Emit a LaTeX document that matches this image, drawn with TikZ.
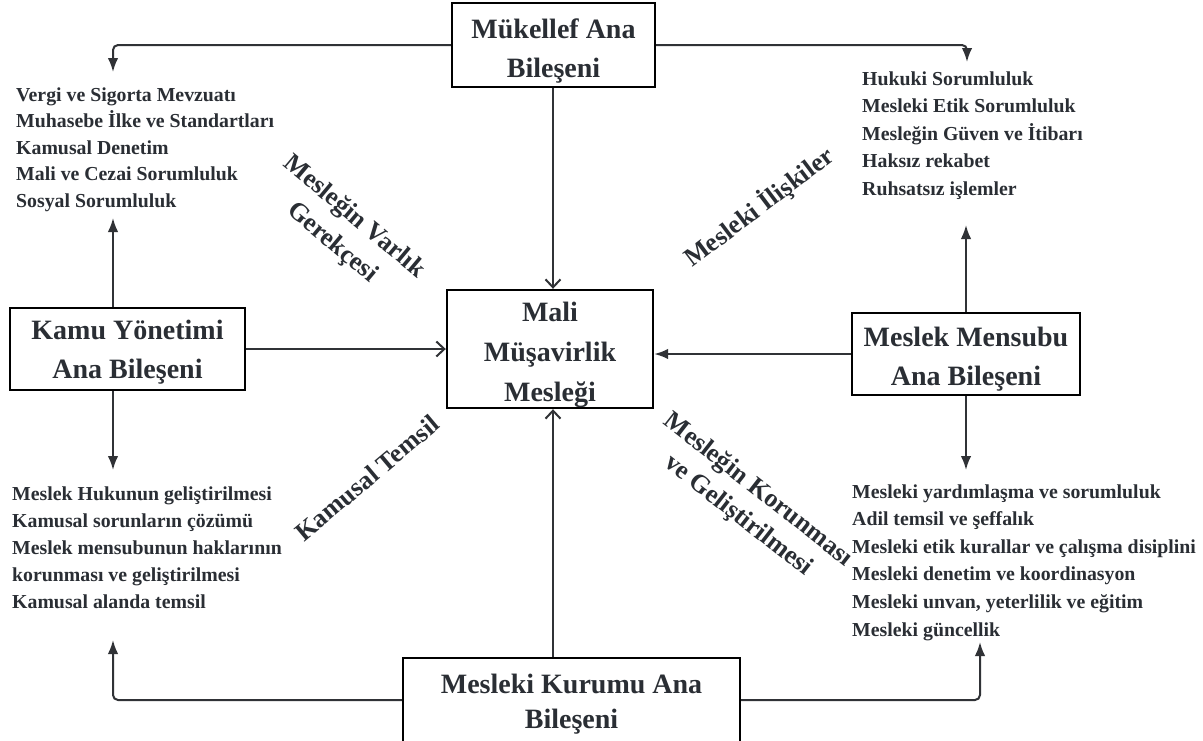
\documentclass[tikz,border=0pt]{standalone}
\usepackage{fontspec}
\setmainfont{Liberation Serif}
\usetikzlibrary{arrows.meta}
\definecolor{txt}{RGB}{42,46,52}
\definecolor{ln}{RGB}{48,50,54}
\newcommand\tpad[1]{\rule{0pt}{#1}}
\begin{document}
\begin{tikzpicture}[x=1pt,y=-1pt,
  box/.style={draw=black, line width=2.4pt, fill=white, inner sep=0pt, align=center, text=txt,
    font=\bfseries\fontsize{28}{39}\selectfont},
  list/.style={anchor=west, inner sep=0pt, align=left, text=txt,
    font=\bfseries\fontsize{19.8}{27}\selectfont},
  lbl/.style={inner sep=0pt, align=center, text=txt,
    font=\bfseries\fontsize{26}{34}\selectfont},
  conn/.style={draw=ln, line width=2pt, rounded corners=5pt},
  fa/.style={-{Latex[length=14pt,width=10.5pt]}},
  ba/.style={-{Straight Barb[length=8pt,width=15pt,line width=2pt]}},
]
\clip (0,0) rectangle (1203,740);
\fill[white] (0,0) rectangle (1203,740);

% boxes
\node[box, minimum width=203pt, minimum height=84pt] (top) at (553.5,45) {\tpad{31pt}Mükellef Ana\\Bileşeni};
\node[box, minimum width=206pt, minimum height=118pt, font=\bfseries\fontsize{28}{40}\selectfont] (center) at (550,349) {\tpad{31pt}Mali\\Müşavirlik\\Mesleği};
\node[box, minimum width=235pt, minimum height=82pt] (kamu) at (127.5,349) {\tpad{25pt}Kamu Yönetimi\\Ana Bileşeni};
\node[box, minimum width=228pt, minimum height=82pt] (mensubu) at (966,354) {\tpad{29pt}Meslek Mensubu\\Ana Bileşeni};
\node[box, minimum width=337pt, minimum height=92pt, font=\bfseries\fontsize{28}{35}\selectfont] (kurumu) at (571.5,704) {Mesleki Kurumu Ana\\Bileşeni};

% lists
\node[list, font=\bfseries\fontsize{19.8}{26.5}\selectfont] (tl) at (16,149.5) {Vergi ve Sigorta Mevzuatı\\Muhasebe İlke ve Standartları\\Kamusal Denetim\\Mali ve Cezai Sorumluluk\\Sosyal Sorumluluk};
\node[list, font=\bfseries\fontsize{19.8}{27.5}\selectfont] (tr) at (862,135.5) {Hukuki Sorumluluk\\Mesleki Etik Sorumluluk\\Mesleğin Güven ve İtibarı\\Haksız rekabet\\Ruhsatsız işlemler};
\node[list] (bl) at (12,547.5) {Meslek Hukunun geliştirilmesi\\Kamusal sorunların çözümü\\Meslek mensubunun haklarının\\korunması ve geliştirilmesi\\Kamusal alanda temsil};
\node[list, font=\bfseries\fontsize{19.8}{27.6}\selectfont] (br) at (852,562.5) {Mesleki yardımlaşma ve sorumluluk\\Adil temsil ve şeffalık\\Mesleki etik kurallar ve çalışma disiplini\\Mesleki denetim ve koordinasyon\\Mesleki unvan, yeterlilik ve eğitim\\Mesleki güncellik};

% rotated labels
\node[lbl, rotate=-40] (l1) at (343,230) {Mesleğin Varlık\\Gerekçesi};
\node[lbl, rotate=37] (l2) at (759,207) {Mesleki İlişkiler};
\node[lbl, rotate=40] (l3) at (367,478) {Kamusal Temsil};
\node[lbl, rotate=-38, font=\bfseries\fontsize{26}{32.5}\selectfont] (l4) at (748,503) {Mesleğin Korunması\\ve Geliştirilmesi};

% coordinates
\coordinate (tlA) at (113,72);
\coordinate (trA) at (967,62);
\coordinate (kx) at (113,0);
\coordinate (kU) at (113,218);
\coordinate (kD) at (113,470);
\coordinate (mU) at (966,225);
\coordinate (mD) at (966,470);
\coordinate (bL) at (113,640);
\coordinate (bR) at (980,642);
\coordinate (cx) at (553,0);

% connectors
\draw[conn,fa] (top.west) -| (tlA);
\draw[conn,fa] (top.east) -| (trA);
\draw[conn,ba] (top.south -| cx) -- (center.north -| cx);
\draw[conn,fa] (kamu.north -| kx) -- (kU);
\draw[conn,fa] (kamu.south -| kx) -- (kD);
\draw[conn,ba] (kamu.east) -- (center.west);
\draw[conn,fa] (mensubu.west) -- (mensubu.west -| center.east);
\draw[conn,fa] (mensubu.north) -- (mU);
\draw[conn,fa] (mensubu.south) -- (mD);
\draw[conn,ba] (kurumu.north -| cx) -- (center.south -| cx);
\draw[conn,fa] ([yshift=4pt]kurumu.west) -| (bL);
\draw[conn,fa] ([yshift=4pt]kurumu.east) -| (bR);
\end{tikzpicture}
\end{document}
